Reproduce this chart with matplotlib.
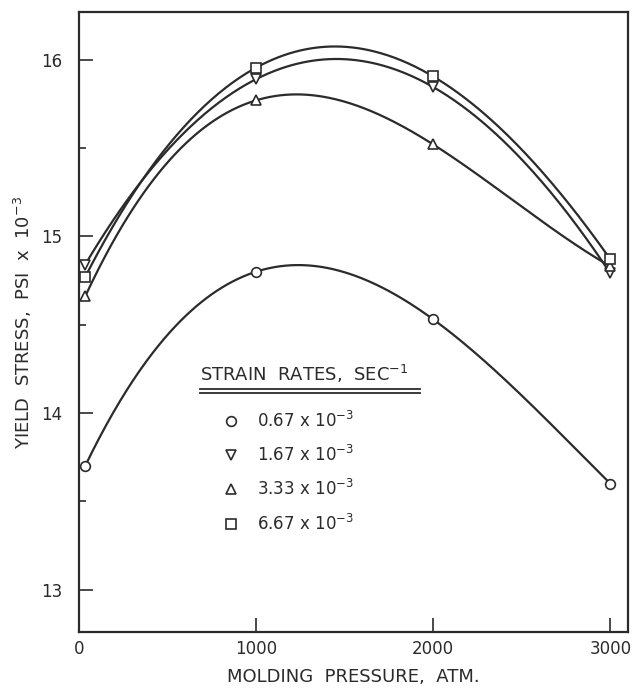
import numpy as np
import matplotlib.pyplot as plt
from matplotlib.ticker import MultipleLocator

# Data (yield stress in psi x 10^-3)
pressure = [35, 1000, 2000, 3000]
stress_067 = [13.70, 14.80, 14.53, 13.60]
stress_167 = [14.84, 15.89, 15.845, 14.79]
stress_333 = [14.66, 15.77, 15.52, 14.83]
stress_667 = [14.77, 15.955, 15.905, 14.87]

labels = [r"0.67 x 10$^{-3}$", r"1.67 x 10$^{-3}$",
          r"3.33 x 10$^{-3}$", r"6.67 x 10$^{-3}$"]
markers = ["o", "v", "^", "s"]
series = [stress_067, stress_167, stress_333, stress_667]

ink = "#2b2b2b"

fig = plt.figure(figsize=(6.37, 6.90), dpi=100)
ax = fig.add_axes([0.124, 0.084, 0.862, 0.8986])

# smooth curve through each set of points (cubic fit, like the hand-drawn lines)
xs = np.linspace(pressure[0], pressure[-1], 300)
for ys in series:
    coef = np.polyfit(pressure, ys, 3)
    ax.plot(xs, np.polyval(coef, xs), color=ink, lw=1.6, zorder=2)

for ys, m, lab in zip(series, markers, labels):
    ax.plot(pressure, ys, linestyle="none", marker=m, markersize=7,
            markerfacecolor="white", markeredgecolor=ink, markeredgewidth=1.2,
            label=lab, zorder=3)

ax.set_xlim(0, 3100)
ax.set_ylim(12.76, 16.27)
ax.set_xticks([0, 1000, 2000, 3000])
ax.set_yticks([13, 14, 15, 16])
ax.yaxis.set_minor_locator(MultipleLocator(0.5))
ax.tick_params(axis="both", which="major", direction="in", length=10, width=1.2,
               color=ink, labelcolor=ink, labelsize=12)
ax.tick_params(axis="x", which="major", pad=6)
ax.tick_params(axis="y", which="major", pad=12)
ax.tick_params(axis="y", which="minor", direction="in", length=5, width=1.2, color=ink)
ax.tick_params(top=False, right=False)
for s in ax.spines.values():
    s.set_color(ink)
    s.set_linewidth(1.6)

ax.set_xlabel("MOLDING  PRESSURE,  ATM.", fontsize=13, color=ink, labelpad=7)
ax.set_ylabel(r"YIELD  STRESS,  PSI  x  10$^{-3}$", fontsize=13, color=ink, labelpad=5)

# legend title with its double underline
ax.text(0.22, 0.416, r"STRAIN  RATES,  SEC$^{-1}$", transform=ax.transAxes,
        fontsize=13, color=ink, ha="left", va="center")
ax.plot([0.22, 0.621], [0.392, 0.392], transform=ax.transAxes, color=ink, lw=1.3)
ax.plot([0.22, 0.621], [0.385, 0.385], transform=ax.transAxes, color=ink, lw=1.3)

leg = ax.legend(loc="upper left", bbox_to_anchor=(0.22, 0.357), frameon=False,
                fontsize=12, handletextpad=-0.35, handlelength=3.8,
                labelspacing=0.85, borderaxespad=0, borderpad=0)
for t in leg.get_texts():
    t.set_color(ink)

fig.savefig("out.png", dpi=100)
